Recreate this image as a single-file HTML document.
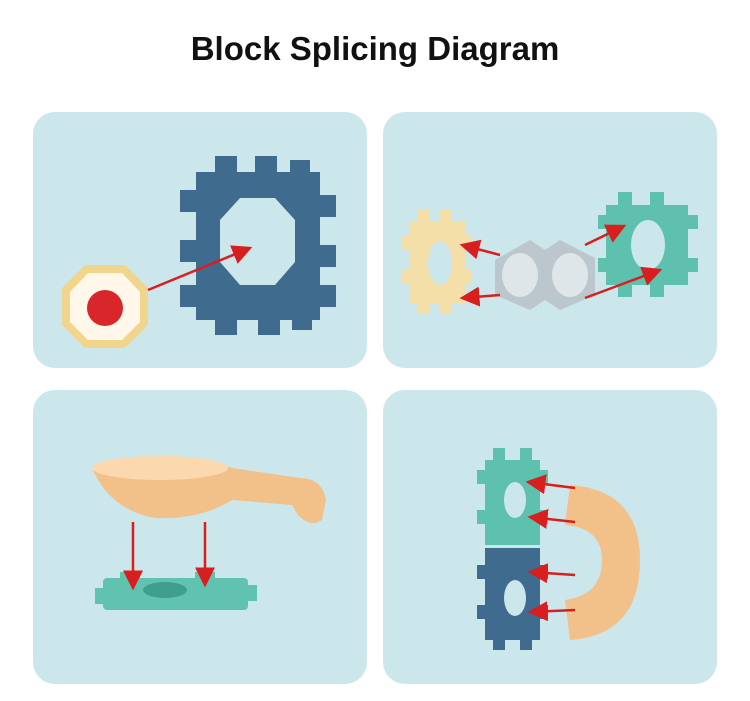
<!DOCTYPE html>
<html><head><meta charset="utf-8"><style>
body{margin:0;background:#fff;width:750px;height:701px;overflow:hidden}
h1{position:absolute;top:30px;left:0;width:750px;margin:0;text-align:center;font:bold 33px "Liberation Sans",sans-serif;color:#111}
</style></head><body>
<h1>Block Splicing Diagram</h1>
<svg width="750" height="701" style="position:absolute;top:0;left:0">
<defs>
<marker id="a" markerWidth="8" markerHeight="8" refX="7" refY="4" orient="auto"><path d="M0,0L8,4L0,8z" fill="#d81e1e"/></marker>
</defs>
<g fill="#cbe7eb">
<rect x="33" y="112" width="334" height="256" rx="22"/>
<rect x="383" y="112" width="334" height="256" rx="22"/>
<rect x="33" y="390" width="334" height="294" rx="22"/>
<rect x="383" y="390" width="334" height="294" rx="22"/>
</g>
<!-- panel1 gear -->
<g fill="#3f6b8f">
<rect x="196" y="172" width="124" height="148"/>
<rect x="215" y="156" width="22" height="20"/><rect x="255" y="156" width="22" height="20"/><rect x="290" y="160" width="20" height="20"/>
<rect x="215" y="315" width="22" height="20"/><rect x="258" y="315" width="22" height="20"/><rect x="292" y="310" width="20" height="20"/>
<rect x="180" y="190" width="20" height="22"/><rect x="180" y="240" width="20" height="22"/><rect x="180" y="285" width="20" height="22"/>
<rect x="316" y="195" width="20" height="22"/><rect x="316" y="245" width="20" height="22"/><rect x="316" y="285" width="20" height="22"/>
</g>
<polygon points="240,198 275,198 295,220 295,262 275,285 240,285 220,262 220,220" fill="#cbe7eb"/>
<polygon points="85,265 125,265 148,288 148,325 125,348 85,348 62,325 62,288" fill="#f2d58c"/>
<polygon points="88,273 122,273 140,292 140,322 122,340 88,340 70,322 70,292" fill="#fff8ea"/>
<circle cx="105" cy="308" r="18" fill="#d8262b"/>
<line x1="148" y1="290" x2="250" y2="248" stroke="#d81e1e" stroke-width="2.5" marker-end="url(#a)"/>
<!-- panel2 -->
<g fill="#f4dfa8">
<rect x="410" y="222" width="55" height="82"/>
<rect x="418" y="210" width="12" height="14"/><rect x="440" y="210" width="12" height="14"/>
<rect x="418" y="302" width="12" height="12"/><rect x="440" y="302" width="12" height="12"/>
<rect x="402" y="235" width="10" height="14"/><rect x="402" y="270" width="10" height="14"/>
<rect x="462" y="235" width="10" height="14"/><rect x="462" y="270" width="10" height="14"/>
</g>
<ellipse cx="440" cy="263" rx="12" ry="22" fill="#cbe7eb"/>
<g fill="#5dc1ad">
<rect x="606" y="205" width="82" height="80"/>
<rect x="618" y="192" width="14" height="15"/><rect x="650" y="192" width="14" height="15"/>
<rect x="618" y="283" width="14" height="14"/><rect x="650" y="283" width="14" height="14"/>
<rect x="598" y="215" width="10" height="14"/><rect x="598" y="258" width="10" height="14"/>
<rect x="686" y="215" width="12" height="14"/><rect x="686" y="258" width="12" height="14"/>
</g>
<ellipse cx="648" cy="245" rx="17" ry="25" fill="#cbe7eb"/>
<path d="M495,260 L530,240 L545,250 L560,240 L595,258 L595,295 L560,310 L545,300 L530,310 L495,295z" fill="#b9c3c9" opacity=".9"/>
<ellipse cx="520" cy="275" rx="18" ry="22" fill="#dfe6ea"/><ellipse cx="570" cy="275" rx="18" ry="22" fill="#dfe6ea"/>
<g stroke="#d81e1e" stroke-width="2.5" marker-end="url(#a)">
<line x1="500" y1="255" x2="462" y2="245"/><line x1="500" y1="295" x2="462" y2="298"/>
<line x1="585" y1="245" x2="624" y2="226"/><line x1="585" y1="298" x2="660" y2="270"/>
</g>
<!-- panel3 -->
<path d="M92,468 Q160,445 232,468 L300,478 Q322,478 326,500 L322,520 Q310,528 298,515 L292,505 L232,500 Q200,520 155,518 Q110,510 92,468z" fill="#f6bc7f" opacity=".9"/>
<ellipse cx="160" cy="468" rx="68" ry="12" fill="#fbd8ae"/>
<g fill="#5fc3b0">
<rect x="103" y="578" width="145" height="32" rx="4"/>
<rect x="95" y="588" width="12" height="16"/><rect x="245" y="585" width="12" height="16"/>
<rect x="120" y="572" width="20" height="8"/><rect x="195" y="572" width="20" height="8"/>
</g>
<ellipse cx="165" cy="590" rx="22" ry="8" fill="#3f9e8e"/>
<g stroke="#d81e1e" stroke-width="2.5" marker-end="url(#a)">
<line x1="133" y1="522" x2="133" y2="588"/><line x1="205" y1="522" x2="205" y2="585"/>
</g>
<!-- panel4 -->
<g fill="#5dc1ad">
<rect x="485" y="460" width="55" height="85"/>
<rect x="493" y="448" width="12" height="14"/><rect x="520" y="448" width="12" height="14"/>
<rect x="477" y="470" width="10" height="14"/><rect x="477" y="510" width="10" height="14"/>
<rect x="538" y="470" width="10" height="14"/><rect x="538" y="510" width="10" height="14"/>
</g>
<ellipse cx="515" cy="500" rx="11" ry="18" fill="#cbe7eb"/>
<g fill="#3f6b8f">
<rect x="485" y="548" width="55" height="92"/>
<rect x="493" y="638" width="12" height="12"/><rect x="520" y="638" width="12" height="12"/>
<rect x="477" y="565" width="10" height="14"/><rect x="477" y="605" width="10" height="14"/>
<rect x="538" y="565" width="10" height="14"/><rect x="538" y="605" width="10" height="14"/>
</g>
<ellipse cx="515" cy="598" rx="11" ry="18" fill="#cbe7eb"/>
<path d="M570,485 Q640,490 640,560 Q640,635 570,640 L565,600 Q602,595 602,560 Q602,528 565,525z" fill="#f6bc7f" opacity=".9"/>
<g stroke="#d81e1e" stroke-width="2.5" marker-end="url(#a)">
<line x1="575" y1="488" x2="528" y2="482"/><line x1="575" y1="522" x2="530" y2="517"/>
<line x1="575" y1="575" x2="530" y2="572"/><line x1="575" y1="610" x2="530" y2="612"/>
</g>
</svg>
</body></html>
